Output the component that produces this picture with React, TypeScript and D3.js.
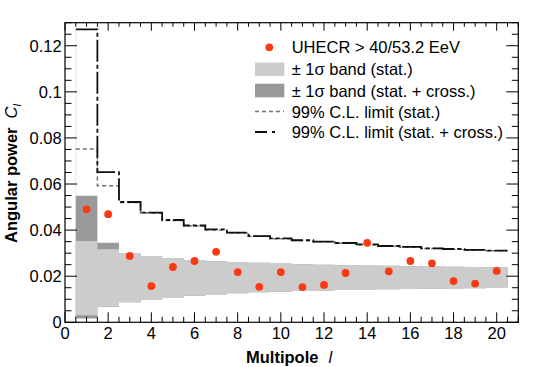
import React, { useRef, useEffect } from 'react';
import * as d3 from 'd3';

// multipole bins
const multipoles = [1, 2, 3, 4, 5, 6, 7, 8, 9, 10, 11, 12, 13, 14, 15, 16, 17, 18, 19, 20];

// measured angular power of UHECR
const dataCl = [0.049, 0.0469, 0.0288, 0.0157, 0.024, 0.0266, 0.0306, 0.0218, 0.0154, 0.0218,
  0.0153, 0.0162, 0.0214, 0.0345, 0.0221, 0.0266, 0.0256, 0.0179, 0.0168, 0.0223];

// +-1 sigma band (stat.)
const statLow = [0.0031, 0.0068, 0.0087, 0.0097, 0.0108, 0.0115, 0.0121, 0.0126, 0.013, 0.0133,
  0.0136, 0.0138, 0.014, 0.0142, 0.0143, 0.0145, 0.0146, 0.0147, 0.0148, 0.0149];
const statHigh = [0.0353, 0.0317, 0.0299, 0.0288, 0.0278, 0.027, 0.0265, 0.0261, 0.0258, 0.0255,
  0.0252, 0.025, 0.0248, 0.0246, 0.0245, 0.0243, 0.0242, 0.0241, 0.024, 0.0239];

// +-1 sigma band (stat. + cross.)
const crossLow = [0.0017, 0.0066, 0.0087, 0.0097, 0.0108, 0.0115, 0.0121, 0.0126, 0.013, 0.0133,
  0.0136, 0.0138, 0.014, 0.0142, 0.0143, 0.0145, 0.0146, 0.0147, 0.0148, 0.0149];
const crossHigh = [0.0549, 0.0345, 0.0299, 0.0288, 0.0278, 0.027, 0.0265, 0.0261, 0.0258, 0.0255,
  0.0252, 0.025, 0.0248, 0.0246, 0.0245, 0.0243, 0.0242, 0.0241, 0.024, 0.0239];

// 99% C.L. upper limits
const limitStat = [0.0752, 0.0593, 0.052, 0.0474, 0.0442, 0.0418, 0.0401, 0.0387, 0.0373, 0.0363,
  0.0355, 0.0349, 0.0343, 0.0337, 0.033, 0.0326, 0.032, 0.0317, 0.0313, 0.031];
const limitCross = [0.1271, 0.0652, 0.0522, 0.0476, 0.0444, 0.042, 0.0403, 0.0389, 0.0374, 0.0364,
  0.0356, 0.035, 0.0344, 0.0338, 0.0331, 0.0327, 0.0321, 0.0318, 0.0314, 0.0311];

const xTicks = [0, 2, 4, 6, 8, 10, 12, 14, 16, 18, 20];
const yTicks = [0, 0.02, 0.04, 0.06, 0.08, 0.1, 0.12];
const yTickLabels = ['0', '0.02', '0.04', '0.06', '0.08', '0.1', '0.12'];

const legendLabels = [
  'UHECR > 40/53.2 EeV',
  '\u00b1 1\u03c3 band (stat.)',
  '\u00b1 1\u03c3 band (stat. + cross.)',
  '99% C.L. limit (stat.)',
  '99% C.L. limit (stat. + cross.)',
];

const RED = '#fb3a14';
const LIGHT = '#cccccc';
const DARK = '#999999';
const FONT = '"Liberation Sans", Arial, Helvetica, sans-serif';

function AngularPowerChart() {
  const svgRef = useRef(null);

  useEffect(() => {
    const svg = d3.select(svgRef.current);
    svg.selectAll('*').remove();

    const width = 540;
    const height = 367;
    const left = 65, right = 518.3, top = 22.7, bottom = 322.3;

    const x = d3.scaleLinear().domain([0, 21]).range([left, right]);
    const y = d3.scaleLinear().domain([0, 0.13]).range([bottom, top]);

    svg.attr('width', width).attr('height', height).attr('font-family', FONT);

    // step helpers: one point per bin lower edge, plus the last upper edge
    const stepPoints = (vals) => {
      const pts = multipoles.map((l, i) => [l - 0.5, vals[i]]);
      pts.push([multipoles[multipoles.length - 1] + 0.5, vals[vals.length - 1]]);
      return pts;
    };
    const bandPoints = (lo, hi) => {
      const pts = multipoles.map((l, i) => ({ x: l - 0.5, lo: lo[i], hi: hi[i] }));
      pts.push({ x: multipoles[multipoles.length - 1] + 0.5, lo: lo[lo.length - 1], hi: hi[hi.length - 1] });
      return pts;
    };

    const area = d3.area()
      .curve(d3.curveStepAfter)
      .x(d => x(d.x))
      .y0(d => y(d.lo))
      .y1(d => y(d.hi));

    const line = d3.line()
      .curve(d3.curveStepAfter)
      .x(d => x(d[0]))
      .y(d => y(d[1]));

    // faint edge of the first bin
    svg.append('line')
      .attr('x1', x(0.5)).attr('x2', x(0.5))
      .attr('y1', top).attr('y2', bottom)
      .attr('stroke', '#e6e6e6').attr('stroke-width', 1);

    // bands
    svg.append('path')
      .attr('d', area(bandPoints(crossLow, crossHigh)))
      .attr('fill', DARK);
    svg.append('path')
      .attr('d', area(bandPoints(statLow, statHigh)))
      .attr('fill', LIGHT);

    // limits
    svg.append('path')
      .attr('d', line(stepPoints(limitStat)))
      .attr('fill', 'none')
      .attr('stroke', '#6f6f6f')
      .attr('stroke-width', 1.5)
      .attr('stroke-dasharray', '4 3');
    svg.append('path')
      .attr('d', line(stepPoints(limitCross)))
      .attr('fill', 'none')
      .attr('stroke', '#111')
      .attr('stroke-width', 1.8)
      .attr('stroke-dasharray', '22 3 4 3');

    // data points
    svg.append('g')
      .selectAll('circle')
      .data(multipoles)
      .enter().append('circle')
      .attr('cx', d => x(d))
      .attr('cy', (d, i) => y(dataCl[i]))
      .attr('r', 3.9)
      .attr('fill', RED);

    // frame
    svg.append('rect')
      .attr('x', left).attr('y', top)
      .attr('width', right - left).attr('height', bottom - top)
      .attr('fill', 'none').attr('stroke', '#000').attr('stroke-width', 1.2);

    // ticks
    const ticks = svg.append('g').attr('stroke', '#000').attr('stroke-width', 1);
    const xMinor = d3.range(0, 21.01, 0.5);
    xMinor.forEach(v => {
      const major = Math.abs(v % 2) < 1e-6;
      const px = x(v);
      ticks.append('line').attr('x1', px).attr('x2', px)
        .attr('y1', bottom).attr('y2', bottom - (major ? 10 : 5.5));
      ticks.append('line').attr('x1', px).attr('x2', px)
        .attr('y1', top).attr('y2', top + (major ? 8 : 4));
    });
    const yMinor = d3.range(0, 0.1301, 0.005);
    yMinor.forEach((v, i) => {
      const major = i % 4 === 0;
      const py = y(v);
      ticks.append('line').attr('x1', left).attr('x2', left + (major ? 12 : 6.5))
        .attr('y1', py).attr('y2', py);
      ticks.append('line').attr('x1', right).attr('x2', right - (major ? 12 : 6.5))
        .attr('y1', py).attr('y2', py);
    });

    // tick labels
    svg.append('g')
      .selectAll('text')
      .data(xTicks)
      .enter().append('text')
      .attr('x', d => x(d))
      .attr('y', 338.5)
      .attr('text-anchor', 'middle')
      .attr('font-size', 16.5)
      .attr('fill', '#000')
      .text(d => d);

    svg.append('g')
      .selectAll('text')
      .data(yTicks)
      .enter().append('text')
      .attr('x', 61.7)
      .attr('y', d => y(d) + 6)
      .attr('text-anchor', 'end')
      .attr('font-size', 16.5)
      .attr('fill', '#000')
      .text((d, i) => yTickLabels[i]);

    // axis titles
    const xTitle = svg.append('text')
      .attr('x', 246)
      .attr('y', 362.5)
      .attr('font-size', 16.5)
      .attr('fill', '#000');
    xTitle.append('tspan').attr('font-weight', 'bold').text('Multipole');
    xTitle.append('tspan').attr('dx', 10).attr('font-style', 'italic').text('l');

    const yTitle = svg.append('text')
      .attr('transform', 'translate(17,243) rotate(-90)')
      .attr('font-size', 16.5)
      .attr('fill', '#000');
    yTitle.append('tspan').attr('font-weight', 'bold').text('Angular power');
    yTitle.append('tspan').attr('dx', 9).attr('font-style', 'italic').text('C');
    yTitle.append('tspan').attr('dy', 4).attr('font-style', 'italic').attr('font-size', 11).text('l');

    // legend
    const legend = svg.append('g');
    const rows = [47.3, 69.3, 90.5, 111.5, 132];
    const items = legend.selectAll('g')
      .data(legendLabels)
      .enter().append('g')
      .attr('transform', (d, i) => `translate(0,${rows[i]})`);

    items.append('text')
      .attr('x', 291.7)
      .attr('y', 6)
      .attr('font-size', 16.5)
      .attr('fill', '#000')
      .text(d => d);

    legend.append('circle').attr('cx', 269.3).attr('cy', rows[0]).attr('r', 3.9).attr('fill', RED);
    legend.append('rect').attr('x', 255).attr('y', rows[1] - 6.8)
      .attr('width', 29.3).attr('height', 13.6).attr('fill', LIGHT);
    legend.append('rect').attr('x', 255).attr('y', rows[2] - 6.8)
      .attr('width', 29.3).attr('height', 13.6).attr('fill', DARK);
    legend.append('line').attr('x1', 255).attr('x2', 284)
      .attr('y1', rows[3]).attr('y2', rows[3])
      .attr('stroke', '#6f6f6f').attr('stroke-width', 1.5).attr('stroke-dasharray', '4 3');
    legend.append('line').attr('x1', 255).attr('x2', 284)
      .attr('y1', rows[4]).attr('y2', rows[4])
      .attr('stroke', '#111').attr('stroke-width', 1.8).attr('stroke-dasharray', '12 5 3 20');
  }, []);

  return (
    <div style={{ position: 'absolute', left: 0, top: 0, width: 540, height: 367 }}>
      <svg ref={svgRef} style={{ display: 'block' }}></svg>
    </div>
  );
}

export default function App() {
  return <AngularPowerChart />;
}
